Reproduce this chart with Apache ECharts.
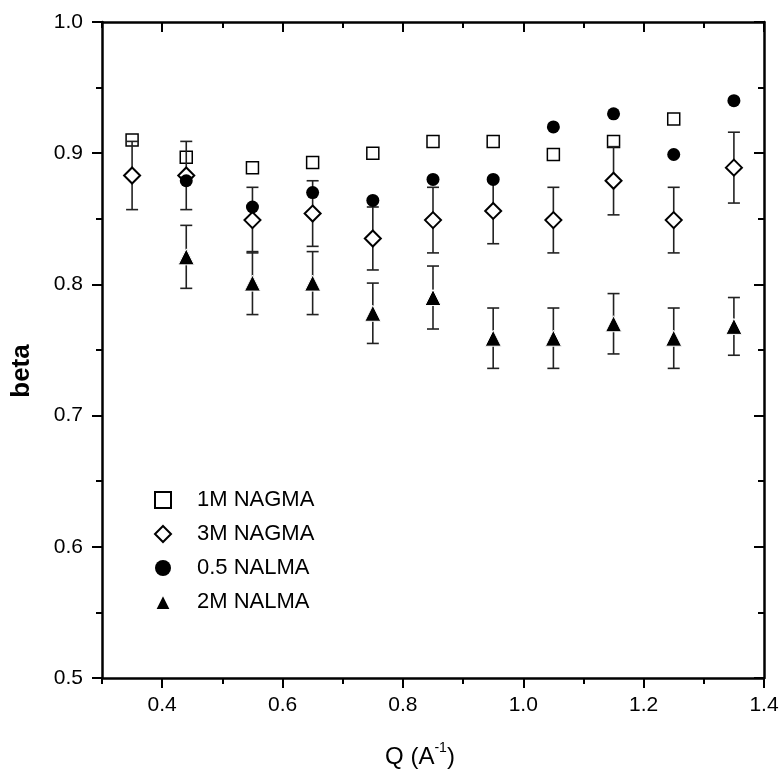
<!DOCTYPE html>
<html>
<head>
<meta charset="utf-8">
<script src="https://cdn.jsdelivr.net/npm/echarts@6/dist/echarts.min.js"></script>
<style>
  html, body { margin: 0; padding: 0; background: #fff; }
  #chart { width: 783px; height: 774px; }
</style>
</head>
<body>
<div id="chart"></div>
<script>
// Scattering vector Q (1/Å) for each measurement column
const qValues = [0.35, 0.44, 0.55, 0.65, 0.75, 0.85, 0.95, 1.05, 1.15, 1.25, 1.35];

// Stretching exponent beta per sample (null = not measured)
const nagma1M    = [0.910, 0.897, 0.889, 0.893, 0.900, 0.909, 0.909, 0.899, 0.909, 0.926, null];
const nagma3M    = [0.883, 0.883, 0.849, 0.854, 0.835, 0.849, 0.856, 0.849, 0.879, 0.849, 0.889];
const nagma3MErr = [0.026, 0.026, 0.025, 0.025, 0.024, 0.025, 0.025, 0.025, 0.026, 0.025, 0.027];
const nalma05    = [null, 0.879, 0.859, 0.870, 0.864, 0.880, 0.880, 0.920, 0.930, 0.899, 0.940];
const nalma2M    = [null, 0.821, 0.801, 0.801, 0.778, 0.790, 0.759, 0.759, 0.770, 0.759, 0.768];
const nalma2MErr = [null, 0.024, 0.024, 0.024, 0.023, 0.024, 0.023, 0.023, 0.023, 0.023, 0.022];

// Axis tick positions
const xMajorTicks = [0.4, 0.6, 0.8, 1.0, 1.2, 1.4];
const xMinorTicks = [0.3, 0.5, 0.7, 0.9, 1.1, 1.3];
const seriesNames = ['1M NAGMA', '3M NAGMA', '0.5 NALMA', '2M NALMA'];

function points(ys) {
  const out = [];
  ys.forEach((y, i) => { if (y != null) out.push([qValues[i], y]); });
  return out;
}
function errorBars(ys, errs) {
  const out = [];
  ys.forEach((y, i) => {
    if (y != null && errs[i] != null) out.push([qValues[i], y - errs[i], y + errs[i]]);
  });
  return out;
}

const FONT = '"Liberation Sans", Arial, sans-serif';
const lineStyle = { color: '#000', width: 2.5 };
const tickStyle = { color: '#000', width: 2 };

function renderErrorBar(params, api) {
  const x = api.value(0);
  const lo = api.coord([x, api.value(1)]);
  const hi = api.coord([x, api.value(2)]);
  const half = 6;
  const st = { stroke: '#222', lineWidth: 1.6 };
  return {
    type: 'group',
    children: [
      { type: 'line', shape: { x1: hi[0], y1: hi[1], x2: lo[0], y2: lo[1] }, style: st },
      { type: 'line', shape: { x1: hi[0] - half, y1: hi[1], x2: hi[0] + half, y2: hi[1] }, style: st },
      { type: 'line', shape: { x1: lo[0] - half, y1: lo[1], x2: lo[0] + half, y2: lo[1] }, style: st }
    ]
  };
}

const chart = echarts.init(document.getElementById('chart'), null, { renderer: 'canvas' });

const xBase = { type: 'value', min: 0.3, max: 1.4, splitLine: { show: false } };
const yBase = { type: 'value', min: 0.5, max: 1.0, interval: 0.1, splitLine: { show: false } };

chart.setOption({
  animation: false,
  backgroundColor: '#fff',
  grid: { left: 102, right: 19, top: 22, bottom: 96, containLabel: false },
  xAxis: [
    Object.assign({}, xBase, {
      position: 'bottom',
      axisLine: { show: true, onZero: false, lineStyle: lineStyle },
      axisTick: { show: true, inside: false, length: 10, lineStyle: tickStyle, customValues: xMajorTicks },
      axisLabel: {
        show: true, margin: 17, color: '#000', fontSize: 21, fontFamily: FONT,
        customValues: xMajorTicks, formatter: v => v.toFixed(1)
      }
    }),
    Object.assign({}, xBase, {
      position: 'bottom',
      axisLine: { show: false, onZero: false },
      axisTick: { show: true, inside: false, length: 6, lineStyle: tickStyle, customValues: xMinorTicks },
      axisLabel: { show: false }
    }),
    Object.assign({}, xBase, {
      position: 'top',
      axisLine: { show: true, onZero: false, lineStyle: lineStyle },
      axisTick: { show: true, inside: true, length: 10, lineStyle: tickStyle, customValues: xMajorTicks },
      axisLabel: { show: false }
    }),
    Object.assign({}, xBase, {
      position: 'top',
      axisLine: { show: false, onZero: false },
      axisTick: { show: true, inside: true, length: 6, lineStyle: tickStyle, customValues: xMinorTicks },
      axisLabel: { show: false }
    })
  ],
  yAxis: [
    Object.assign({}, yBase, {
      position: 'left',
      axisLine: { show: true, onZero: false, lineStyle: lineStyle },
      axisTick: { show: true, inside: false, length: 10, lineStyle: tickStyle },
      minorTick: { show: true, splitNumber: 2, length: 6, lineStyle: tickStyle },
      axisLabel: {
        show: true, margin: 19, color: '#000', fontSize: 21, fontFamily: FONT,
        formatter: v => v.toFixed(1)
      }
    }),
    Object.assign({}, yBase, {
      position: 'right',
      axisLine: { show: true, onZero: false, lineStyle: lineStyle },
      axisTick: { show: true, inside: true, length: 10, lineStyle: tickStyle },
      minorTick: { show: true, splitNumber: 2, length: 6, lineStyle: tickStyle },
      axisLabel: { show: false }
    })
  ],
  legend: {
    data: seriesNames,
    orient: 'vertical',
    left: 149,
    top: 484,
    itemWidth: 16,
    itemHeight: 16,
    itemGap: 12,
    textStyle: { color: '#000', fontSize: 22, fontFamily: FONT, padding: [0, 0, 0, 21] },
    selectedMode: false
  },
  graphic: [
    {
      type: 'text',
      x: 22, y: 371,
      rotation: Math.PI / 2,
      style: {
        text: 'beta',
        fill: '#000',
        font: 'bold 26px ' + FONT,
        align: 'center',
        verticalAlign: 'middle'
      }
    },
    {
      type: 'text',
      x: 420, y: 755,
      style: {
        text: '{n|Q (A}{s|-1}{n|)}',
        align: 'center',
        verticalAlign: 'middle',
        rich: {
          n: { fontSize: 24, fontFamily: FONT, fill: '#000', color: '#000', lineHeight: 28, verticalAlign: 'bottom' },
          s: { fontSize: 14, fontFamily: FONT, fill: '#000', color: '#000', lineHeight: 28, verticalAlign: 'top' }
        }
      }
    }
  ],
  series: [
    {
      name: '1M NAGMA',
      type: 'scatter',
      symbol: 'rect',
      symbolSize: 12,
      itemStyle: { color: 'rgba(0,0,0,0)', borderColor: '#000', borderWidth: 1.5, opacity: 1 },
      data: points(nagma1M),
      z: 2
    },
    {
      name: 'errors',
      type: 'custom',
      renderItem: renderErrorBar,
      encode: { x: 0, y: [1, 2] },
      data: errorBars(nagma3M, nagma3MErr).concat(errorBars(nalma2M, nalma2MErr)),
      z: 3
    },
    {
      name: '3M NAGMA',
      type: 'scatter',
      symbol: 'diamond',
      symbolSize: 16,
      itemStyle: { color: '#fff', borderColor: '#000', borderWidth: 2, opacity: 1 },
      data: points(nagma3M),
      z: 4
    },
    {
      name: '0.5 NALMA',
      type: 'scatter',
      symbol: 'circle',
      symbolSize: 13,
      itemStyle: { color: '#000', opacity: 1 },
      data: points(nalma05),
      z: 5
    },
    {
      name: '2M NALMA',
      type: 'scatter',
      symbol: 'triangle',
      symbolSize: 16,
      itemStyle: { color: '#000', borderColor: '#fff', borderWidth: 1, opacity: 1 },
      data: points(nalma2M),
      z: 6
    }
  ]
});
</script>
</body>
</html>
